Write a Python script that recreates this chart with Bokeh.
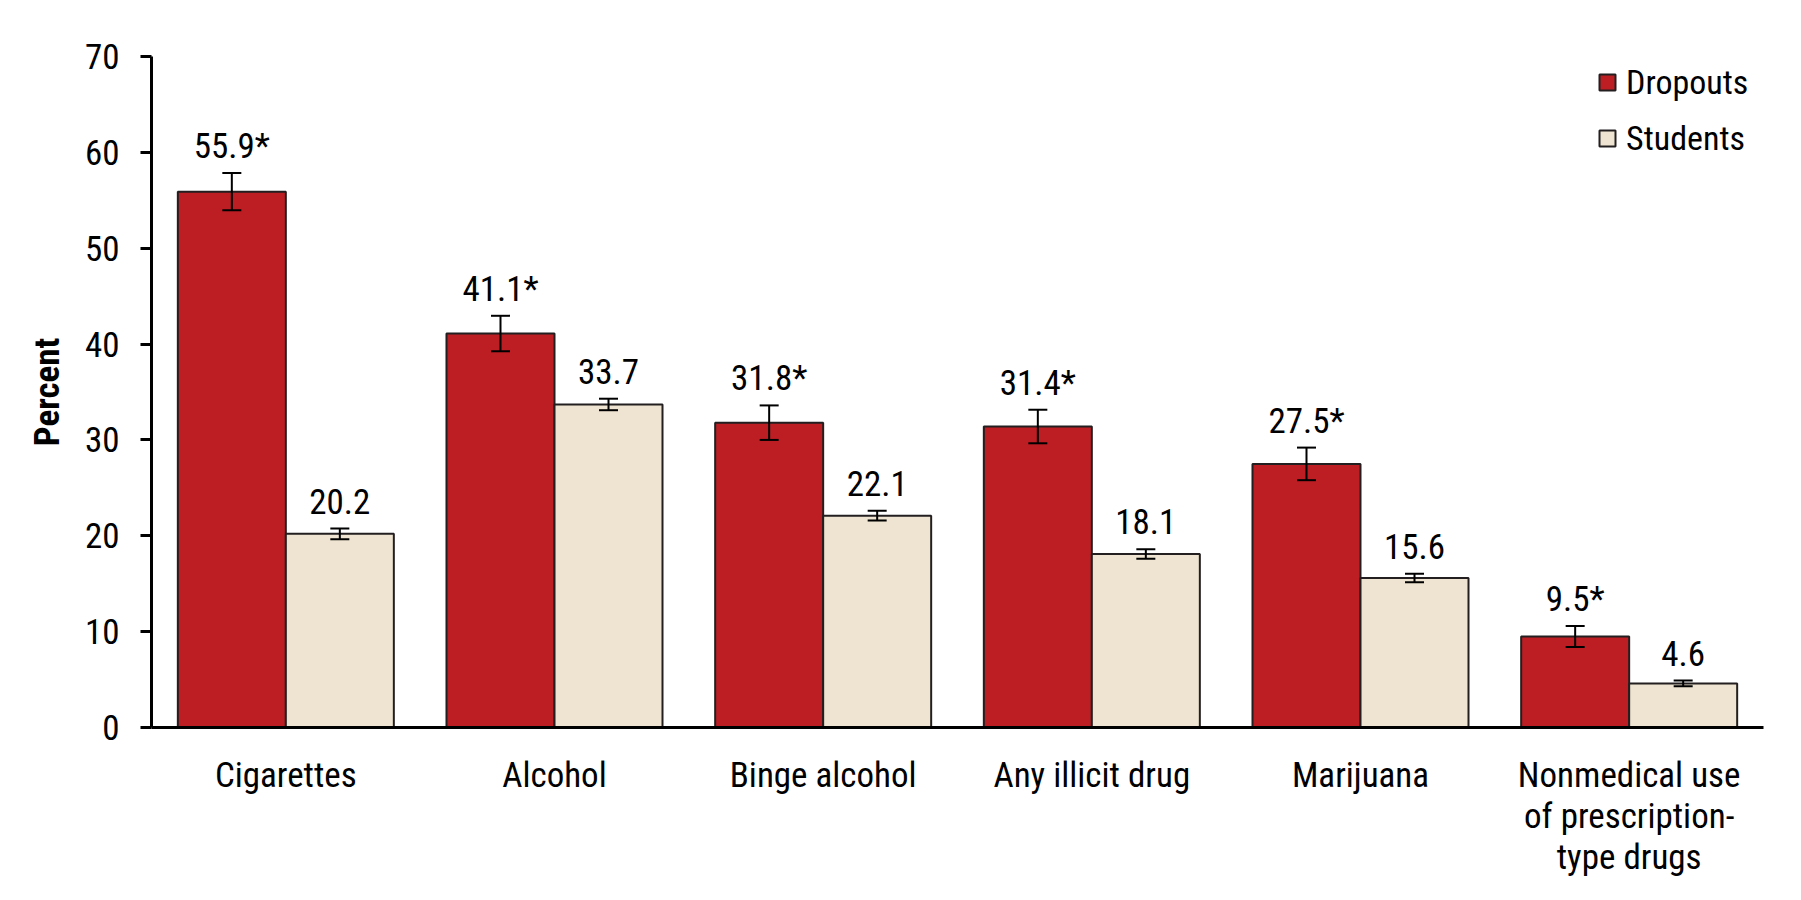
from bokeh.plotting import figure
from bokeh.models import (ColumnDataSource, FactorRange, Range1d, FixedTicker, Whisker,
                          TeeHead, LabelSet, Legend, LegendItem)
from bokeh.transform import dodge
from bokeh.core.properties import value
from bokeh.embed import file_html
from bokeh.resources import INLINE

# ---- data ----
categories = ["Cigarettes", "Alcohol", "Binge alcohol", "Any illicit drug", "Marijuana",
              "Nonmedical use\nof prescription-\ntype drugs"]
dropouts = [55.9, 41.1, 31.8, 31.4, 27.5, 9.5]
dropouts_err = [1.95, 1.85, 1.8, 1.75, 1.7, 1.1]
dropouts_significant = [True, True, True, True, True, True]
students = [20.2, 33.7, 22.1, 18.1, 15.6, 4.6]
students_err = [0.55, 0.6, 0.5, 0.5, 0.45, 0.3]
y_ticks = [0, 10, 20, 30, 40, 50, 60, 70]
series_names = ["Dropouts", "Students"]

FONT = "Roboto Condensed"
RED = "#BD1E24"
BEIGE = "#EFE4D1"
EDGE = "#231F20"

src_d = ColumnDataSource(dict(
    cat=categories, val=dropouts,
    upper=[v + e for v, e in zip(dropouts, dropouts_err)],
    lower=[v - e for v, e in zip(dropouts, dropouts_err)],
    label=[f"{v}{'*' if s else ''}" for v, s in zip(dropouts, dropouts_significant)],
))
src_s = ColumnDataSource(dict(
    cat=categories, val=students,
    upper=[v + e for v, e in zip(students, students_err)],
    lower=[v - e for v, e in zip(students, students_err)],
    label=[f"{v}" for v in students],
))

p = figure(width=1801, height=900, x_range=FactorRange(*categories, range_padding=0),
           y_range=Range1d(0, 70), output_backend="svg", toolbar_location=None,
           min_border_left=151, min_border_right=38, min_border_top=56, min_border_bottom=173)
p.outline_line_color = None
p.xgrid.grid_line_color = None
p.ygrid.grid_line_color = None
p.background_fill_color = "white"

W = 0.402
r_d = p.vbar(x=dodge("cat", -0.201, range=p.x_range), top="val", width=W, source=src_d,
             fill_color=RED, line_color=EDGE, line_width=2)
r_s = p.vbar(x=dodge("cat", 0.201, range=p.x_range), top="val", width=W, source=src_s,
             fill_color=BEIGE, line_color=EDGE, line_width=2)

for src, off in ((src_d, -0.201), (src_s, 0.201)):
    wk = Whisker(base=dodge("cat", off, range=p.x_range), upper="upper", lower="lower",
                 source=src, line_color="black", line_width=2, level="overlay",
                 upper_head=TeeHead(size=19, line_width=2, line_color="black"),
                 lower_head=TeeHead(size=19, line_width=2, line_color="black"))
    p.add_layout(wk)
    lbl = LabelSet(x=dodge("cat", off, range=p.x_range), y="upper", text="label", source=src,
                   text_align="center", text_baseline="alphabetic", y_offset=15,
                   text_font=value(FONT), text_font_size="35px", text_color="black")
    p.add_layout(lbl)

# axes
p.yaxis.ticker = FixedTicker(ticks=y_ticks)
p.yaxis.minor_tick_line_color = None
p.yaxis.major_tick_in = 0
p.yaxis.major_tick_out = 11
p.yaxis.major_tick_line_width = 3
p.yaxis.major_tick_line_color = "black"
p.yaxis.axis_line_width = 3
p.yaxis.axis_line_color = "black"
p.yaxis.major_label_standoff = 21
p.yaxis.major_label_text_font = FONT
p.yaxis.major_label_text_font_size = "35px"
p.yaxis.major_label_text_color = "black"
p.yaxis.axis_label = "Percent"
p.yaxis.axis_label_text_font = FONT
p.yaxis.axis_label_text_font_size = "35px"
p.yaxis.axis_label_text_font_style = "bold"
p.yaxis.axis_label_text_color = "black"
p.yaxis.axis_label_standoff = 14

p.xaxis.major_tick_line_color = None
p.xaxis.major_tick_in = 0
p.xaxis.major_tick_out = 0
p.xaxis.minor_tick_line_color = None
p.xaxis.axis_line_width = 3
p.xaxis.axis_line_color = "black"
p.xaxis.major_label_standoff = 27
p.xaxis.major_label_text_font = FONT
p.xaxis.major_label_text_font_size = "35px"
p.xaxis.major_label_text_line_height = 1.0
p.xaxis.major_label_text_color = "black"
p.xaxis.major_label_orientation = "horizontal"

legend = Legend(items=[LegendItem(label=series_names[0], renderers=[r_d]),
                       LegendItem(label=series_names[1], renderers=[r_s])],
                location=(1446, 569), margin=0, padding=0, border_line_color=None,
                background_fill_alpha=0, glyph_width=20, glyph_height=20,
                label_standoff=9, spacing=16, label_height=40,
                label_text_font=FONT, label_text_font_size="34px", label_text_color="black")
p.add_layout(legend)

open("out.html", "w").write(file_html(p, INLINE))
